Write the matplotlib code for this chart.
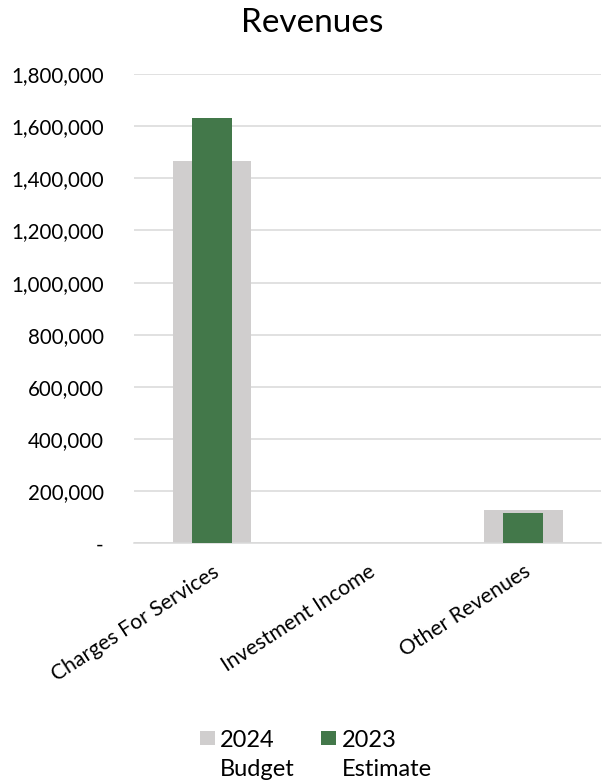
import matplotlib
matplotlib.use("Agg")
import matplotlib.pyplot as plt
from matplotlib.patches import Rectangle
from matplotlib.ticker import FuncFormatter, MultipleLocator
import numpy as np

plt.rcParams['font.family'] = ['Lato', 'DejaVu Sans']

categories = ["Charges For Services", "Investment Income", "Other Revenues"]
budget_2024 = [1465000, 0, 130000]
estimate_2023 = [1632000, 0, 117000]
series_labels = ["2024\nBudget", "2023\nEstimate"]
series_colors = ["#d0cece", "#43784a"]

W, H = 604, 784
fig = plt.figure(figsize=(W / 100, H / 100), dpi=100)
ax = fig.add_axes([0.222, 0.3068, 0.773, 0.5988])

x = np.arange(len(categories))
ax.bar(x, budget_2024, width=0.506, color=series_colors[0], zorder=2)
ax.bar(x, estimate_2023, width=0.256, color=series_colors[1], zorder=3)

ax.set_xlim(-0.5, len(categories) - 0.5)
ax.set_ylim(0, 1800000)
ax.yaxis.set_major_locator(MultipleLocator(200000))
ax.yaxis.set_major_formatter(
    FuncFormatter(lambda v, _: "-" if v == 0 else f"{v:,.0f}"))
ax.grid(axis='y', color='#d9d9d9', linewidth=1.1, zorder=0)
ax.set_axisbelow(True)
for side in ['top', 'right', 'left']:
    ax.spines[side].set_visible(False)
ax.spines['bottom'].set_color('#d9d9d9')
ax.spines['bottom'].set_linewidth(1.1)
ax.tick_params(axis='y', length=0, pad=22, labelsize=14.8, labelcolor='#000000')
ax.tick_params(axis='x', length=0, pad=13)

ax.set_xticks(x)
ax.set_xticklabels(categories, rotation=33, ha='right', rotation_mode='anchor',
                   fontsize=15.2)

fig.text(312.5 / W, 1 - 32 / H, "Revenues", ha='center', va='baseline',
         fontsize=24)

# legend: colour square beside the first line of each two-line label
legend_pos = [(200, 220), (321, 342)]
for (sx, tx), lab, col in zip(legend_pos, series_labels, series_colors):
    fig.add_artist(Rectangle((sx / W, 1 - 745 / H), 15 / W, 14 / H,
                             transform=fig.transFigure, color=col, lw=0))
    first, second = lab.split("\n")
    fig.text(tx / W, 1 - 747 / H, first, ha='left', va='baseline', fontsize=17)
    fig.text(tx / W, 1 - 776 / H, second, ha='left', va='baseline', fontsize=17)

fig.savefig("out.png", dpi=100)
